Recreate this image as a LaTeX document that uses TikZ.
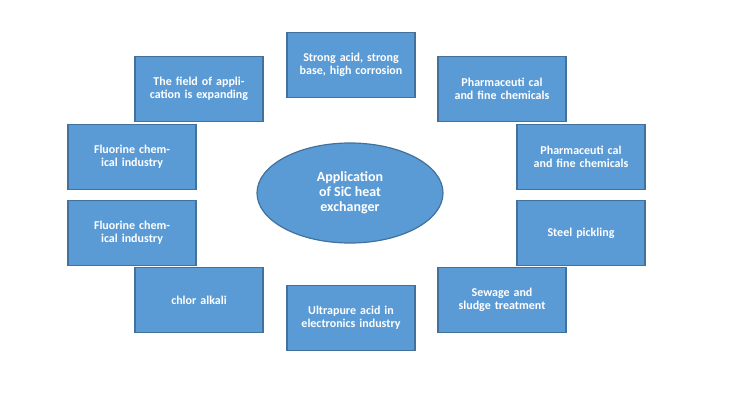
\documentclass[tikz,border=0pt]{standalone}
\usepackage{fontspec}
\setmainfont{Carlito}
\usetikzlibrary{shapes.geometric}
\definecolor{fillb}{HTML}{5B9BD5}
\definecolor{lineb}{HTML}{41719C}
\begin{document}
\begin{tikzpicture}[x=1pt,y=-1pt,
 box/.style={draw=lineb,line width=1.2pt,fill=fillb,minimum width=128pt,minimum height=65pt,text width=112pt,align=center,text=white,font=\fontsize{12}{13}\selectfont\bfseries,inner sep=2pt}]
\useasboundingbox (0,0) rectangle (750,400);
\node[box] (t) at (351,65) {Strong acid, strong base, high corrosion};
\node[box] (tl) at (199,89) {The field of application is expanding};
\node[box] (tr) at (502,89) {Pharmaceuti cal and fine chemicals};
\node[box] (lu) at (132,157) {Fluorine chemical industry};
\node[box] (ru) at (581,157) {Pharmaceuti cal and fine chemicals};
\node[box] (ll) at (132,233) {Fluorine chemical industry};
\node[box] (rl) at (581,233) {Steel pickling};
\node[box] (bl) at (199,300) {chlor alkali};
\node[box] (b) at (351,318) {Ultrapure acid in electronics industry};
\node[box] (br) at (502,300) {Sewage and sludge treatment};
\node[draw=lineb,line width=1.2pt,fill=fillb,ellipse,minimum width=186pt,minimum height=100pt,inner sep=0pt] (c) at (350,193) {};
\node[align=center,text=white,font=\fontsize{14}{15}\selectfont\bfseries] (ct) at (c) {Application\\of SiC heat\\exchanger};
\end{tikzpicture}
\end{document}
